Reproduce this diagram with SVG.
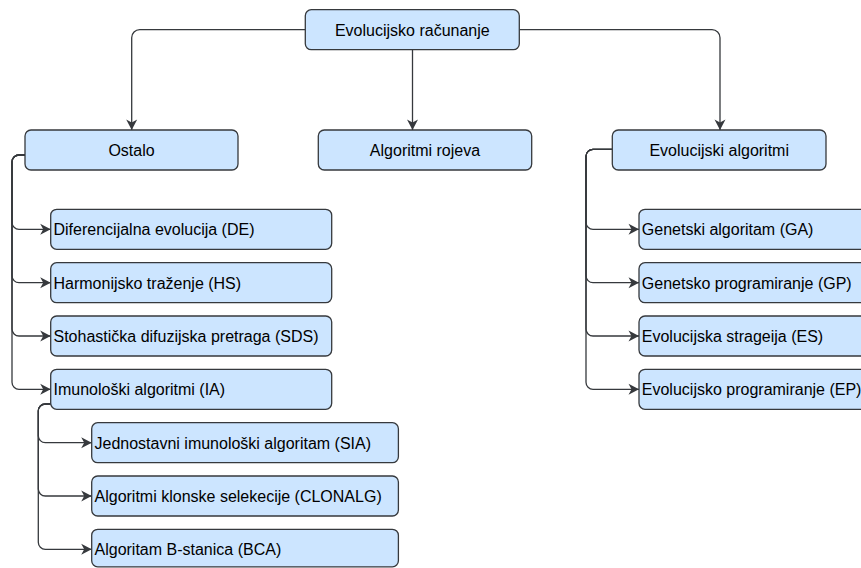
<svg xmlns="http://www.w3.org/2000/svg" width="861" height="568" viewBox="0 0 861 568">
<style>
.box{fill:#cce5ff;stroke:#36393d;stroke-width:1.3}
.t{font-family:"Liberation Sans",Arial,Helvetica,sans-serif;font-size:16px;fill:#000}
.c{text-anchor:middle}
.e{fill:none;stroke:#36393d;stroke-width:1.3;marker-end:url(#arr)}
</style>
<defs>
<marker id="arr" markerUnits="userSpaceOnUse" markerWidth="13" markerHeight="13" viewBox="-11 -6.5 12 13" refX="0" refY="0" orient="auto">
<path d="M0,0 L-10.5,-5.5 L-7.5,0 L-10.5,5.5 Z" fill="#36393d"/>
</marker>
</defs>
<rect width="861" height="568" fill="#fff"/>
<g id="connectors">
<path class="e" d="M305.3,29.7 H139.7 A8,8 0 0 0 131.7,37.7 V130"/>
<path class="e" d="M412.5,49.7 V130"/>
<path class="e" d="M519.3,29.7 H712 A8,8 0 0 1 720,37.7 V130"/>
<path class="e" d="M25,155 H19 A7,7 0 0 0 12,162 V222.3 A7,7 0 0 0 19,229.3 H50.7"/>
<path class="e" d="M25,155 H19 A7,7 0 0 0 12,162 V275.7 A7,7 0 0 0 19,282.7 H50.7"/>
<path class="e" d="M25,155 H19 A7,7 0 0 0 12,162 V329 A7,7 0 0 0 19,336 H50.7"/>
<path class="e" d="M25,155 H19 A7,7 0 0 0 12,162 V382.3 A7,7 0 0 0 19,389.3 H50.7"/>
<path class="e" d="M50.7,404 H45.3 A7,7 0 0 0 38.3,411 V435.7 A7,7 0 0 0 45.3,442.7 H91.7"/>
<path class="e" d="M50.7,404 H45.3 A7,7 0 0 0 38.3,411 V489 A7,7 0 0 0 45.3,496 H91.7"/>
<path class="e" d="M50.7,404 H45.3 A7,7 0 0 0 38.3,411 V542.3 A7,7 0 0 0 45.3,549.3 H91.7"/>
<path class="e" d="M612.3,149.3 H593 A7,7 0 0 0 586,156.3 V222.3 A7,7 0 0 0 593,229.3 H639"/>
<path class="e" d="M612.3,149.3 H593 A7,7 0 0 0 586,156.3 V275.7 A7,7 0 0 0 593,282.7 H639"/>
<path class="e" d="M612.3,149.3 H593 A7,7 0 0 0 586,156.3 V329 A7,7 0 0 0 593,336 H639"/>
<path class="e" d="M612.3,149.3 H593 A7,7 0 0 0 586,156.3 V382.3 A7,7 0 0 0 593,389.3 H639"/>
</g>
<g id="evolucijsko-racunanje"><rect class="box" x="305.3" y="9.7" width="214" height="40" rx="6"/><text class="t c" x="412.3" y="35.5">Evolucijsko računanje</text></g>
<g id="ostalo"><rect class="box" x="25" y="130" width="213" height="40" rx="6"/><text class="t c" x="131.5" y="155.8">Ostalo</text></g>
<g id="algoritmi-rojeva"><rect class="box" x="318.3" y="130" width="213.4" height="40" rx="6"/><text class="t c" x="425" y="155.8">Algoritmi rojeva</text></g>
<g id="evolucijski-algoritmi"><rect class="box" x="612.3" y="130" width="213.7" height="40" rx="6"/><text class="t c" x="719.2" y="155.8">Evolucijski algoritmi</text></g>
<g id="de"><rect class="box" x="50.7" y="209.3" width="281" height="40" rx="6"/><text class="t" x="53.5" y="235.3">Diferencijalna evolucija (DE)</text></g>
<g id="hs"><rect class="box" x="50.7" y="262.7" width="281" height="40" rx="6"/><text class="t" x="53.5" y="288.7">Harmonijsko traženje (HS)</text></g>
<g id="sds"><rect class="box" x="50.7" y="316" width="281" height="40" rx="6"/><text class="t" x="53.5" y="342">Stohastička difuzijska pretraga (SDS)</text></g>
<g id="ia"><rect class="box" x="50.7" y="369.3" width="281" height="40" rx="6"/><text class="t" x="53.5" y="395.3">Imunološki algoritmi (IA)</text></g>
<g id="sia"><rect class="box" x="91.7" y="422.7" width="306.7" height="40" rx="6"/><text class="t" x="94.5" y="448.7">Jednostavni imunološki algoritam (SIA)</text></g>
<g id="clonalg"><rect class="box" x="91.7" y="476" width="306.7" height="40" rx="6"/><text class="t" x="94.5" y="502">Algoritmi klonske selekecije (CLONALG)</text></g>
<g id="bca"><rect class="box" x="91.7" y="529.3" width="306.7" height="37.5" rx="6"/><text class="t" x="94.5" y="555">Algoritam B-stanica (BCA)</text></g>
<g id="ga"><rect class="box" x="639" y="209.3" width="260" height="40" rx="6"/><text class="t" x="641.8" y="235.3">Genetski algoritam (GA)</text></g>
<g id="gp"><rect class="box" x="639" y="262.7" width="260" height="40" rx="6"/><text class="t" x="641.8" y="288.7">Genetsko programiranje (GP)</text></g>
<g id="es"><rect class="box" x="639" y="316" width="260" height="40" rx="6"/><text class="t" x="641.8" y="342">Evolucijska strageija (ES)</text></g>
<g id="ep"><rect class="box" x="639" y="369.3" width="260" height="40" rx="6"/><text class="t" x="641.8" y="395.3">Evolucijsko programiranje (EP)</text></g>
</svg>
